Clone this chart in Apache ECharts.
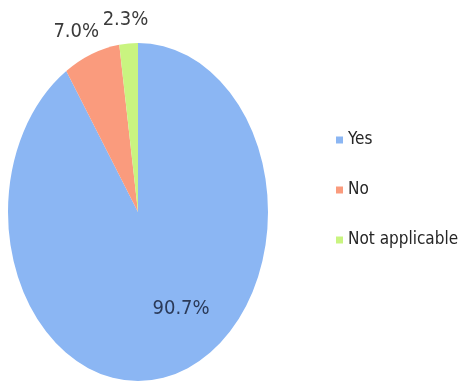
<!DOCTYPE html>
<html>
<head>
<meta charset="utf-8">
<script src="https://cdn.jsdelivr.net/npm/echarts@6/dist/echarts.min.js"></script>
<style>
  html, body { margin: 0; padding: 0; background: #ffffff; }
  #chart { width: 461px; height: 385px; }
</style>
</head>
<body>
<div id="chart"></div>
<script>
// Survey answers and their shares (%)
const categories = ['Yes', 'No', 'Not applicable'];
const shares = [90.7, 7.0, 2.3];
const sliceColors = ['#8bb6f3', '#fa9b7d', '#c9f480'];

const chart = echarts.init(document.getElementById('chart'), null, { renderer: 'canvas' });

const total = shares.reduce((a, b) => a + b, 0);
// Pie geometry: a circle stretched vertically into an ellipse
const CX = 138, CY = 212, R = 130, SY = 169 / 130;
const FONT = '"DejaVu Sans Condensed", "Liberation Sans Narrow", sans-serif';

function startFraction(i) {
  let s = 0;
  for (let k = 0; k < i; k++) s += shares[k];
  return s / total;
}

function makeSeries(i) {
  return {
    type: 'custom',
    name: categories[i],
    coordinateSystem: 'none',
    itemStyle: { color: sliceColors[i] },
    data: [[shares[i]]],
    renderItem: function (params, api) {
      const v = api.value(0);
      const f0 = startFraction(i);
      const f1 = f0 + v / total;
      const a0 = -Math.PI / 2 + f0 * 2 * Math.PI;
      const a1 = -Math.PI / 2 + f1 * 2 * Math.PI;
      const mid = (a0 + a1) / 2;
      const dx = Math.cos(mid), dy = Math.sin(mid);
      const big = v / total > 0.5;
      let lx, ly;
      if (big) {
        // label inside the large slice
        lx = CX + dx * R * 1.15;
        ly = CY + dy * R * SY * 0.6;
      } else {
        // label just outside the rim
        lx = CX + dx * (R * 1.14 + 25);
        ly = CY + dy * R * SY * 1.14;
      }
      return {
        type: 'group',
        children: [
          {
            type: 'sector',
            x: CX, y: CY, scaleY: SY,
            shape: { cx: 0, cy: 0, r0: 0, r: R, startAngle: a0, endAngle: a1, clockwise: true },
            style: { fill: sliceColors[i] }
          },
          {
            type: 'text',
            x: lx, y: ly, z2: 10,
            style: {
              text: v.toFixed(1) + '%',
              fill: big ? '#2b3a58' : '#3a3a3a',
              fontSize: 20,
              fontFamily: FONT,
              align: 'center',
              verticalAlign: 'middle'
            }
          }
        ]
      };
    }
  };
}

chart.setOption({
  animation: false,
  backgroundColor: '#ffffff',
  legend: {
    orient: 'vertical',
    left: 331,
    top: 125,
    icon: 'rect',
    itemWidth: 7,
    itemHeight: 7,
    itemGap: 30,
    data: categories,
    textStyle: {
      fontFamily: FONT,
      fontSize: 17,
      lineHeight: 20,
      color: '#262626'
    }
  },
  series: categories.map((c, i) => makeSeries(i))
});
</script>
</body>
</html>
